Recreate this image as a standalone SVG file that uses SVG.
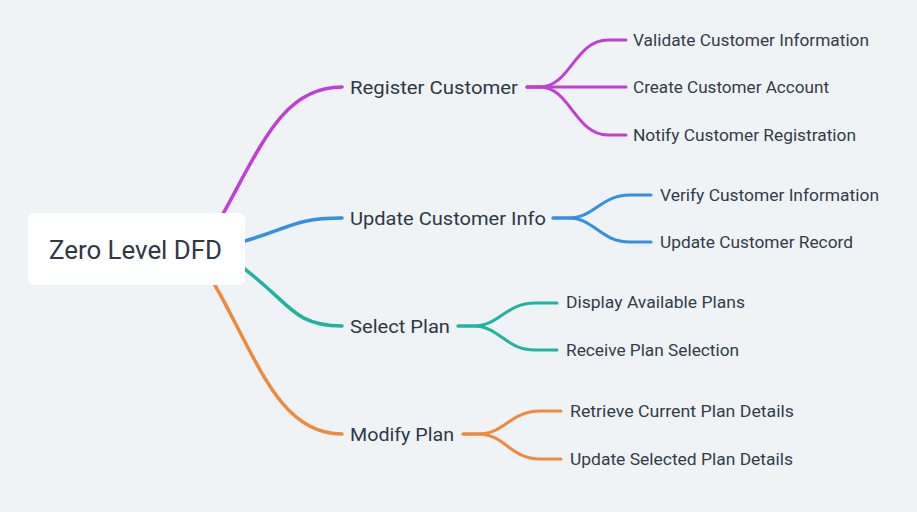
<svg xmlns="http://www.w3.org/2000/svg" width="917" height="512" viewBox="0 0 917 512">
<style>
.l1{font-family:Roboto,"Noto Sans",sans-serif;font-size:18px;fill:#2e3846}
.l2{font-family:Roboto,"Noto Sans",sans-serif;font-size:16px;fill:#333c49}
.root{font-family:Roboto,"Noto Sans",sans-serif;font-size:25px;fill:#2e3846}
.c{fill:none;stroke-linecap:round;stroke-width:3.5}
.cc{fill:none;stroke-linecap:round;stroke-width:3}
.m{stroke:#c23fd6}.b{stroke:#3390e2}.t{stroke:#22b3a0}.o{stroke:#ed8a3e}
</style>
<rect width="917" height="512" fill="#eff3f6"/>
<g id="connectors">
<path class="c m" d="M215 228 C260 150 280 87 342 87"/>
<path class="c b" d="M230 245 C290 230 290 218 342 218"/>
<path class="c t" d="M235 262 C290 300 290 326 342 326"/>
<path class="c o" d="M205 268 C255 350 275 434 342 434"/>
<path class="cc m" d="M527 87 L540 87 C570 87 575 40 608 40 L626 40"/>
<path class="cc m" d="M527 87 L626 87"/>
<path class="cc m" d="M527 87 L540 87 C570 87 575 135 608 135 L626 135"/>
<path class="cc b" d="M553 218 L568 218 C595 218 600 195 630 195 L651 195"/>
<path class="cc b" d="M553 218 L568 218 C595 218 600 242 630 242 L651 242"/>
<path class="cc t" d="M458 326 L473 326 C500 326 505 303 535 303 L557 303"/>
<path class="cc t" d="M458 326 L473 326 C500 326 505 350 535 350 L557 350"/>
<path class="cc o" d="M463 434 L478 434 C505 434 510 411 540 411 L561 411"/>
<path class="cc o" d="M463 434 L478 434 C505 434 510 459 540 459 L561 459"/>
</g>
<g id="root">
<rect x="28" y="213" width="217" height="72" rx="6" fill="#ffffff"/>
<text class="root" x="49" y="259" textLength="173" lengthAdjust="spacingAndGlyphs">Zero Level DFD</text>
</g>
<g id="register"><text class="l1" x="350" y="94" textLength="168" lengthAdjust="spacingAndGlyphs">Register Customer</text></g>
<g id="update"><text class="l1" x="350" y="225" textLength="196" lengthAdjust="spacingAndGlyphs">Update Customer Info</text></g>
<g id="select"><text class="l1" x="350" y="333" textLength="100" lengthAdjust="spacingAndGlyphs">Select Plan</text></g>
<g id="modify"><text class="l1" x="350" y="441" textLength="104" lengthAdjust="spacingAndGlyphs">Modify Plan</text></g>
<g id="validate"><text class="l2" x="633" y="46" textLength="236" lengthAdjust="spacingAndGlyphs">Validate Customer Information</text></g>
<g id="create"><text class="l2" x="633" y="93" textLength="196" lengthAdjust="spacingAndGlyphs">Create Customer Account</text></g>
<g id="notify"><text class="l2" x="633" y="141" textLength="223" lengthAdjust="spacingAndGlyphs">Notify Customer Registration</text></g>
<g id="verify"><text class="l2" x="660" y="201" textLength="219" lengthAdjust="spacingAndGlyphs">Verify Customer Information</text></g>
<g id="record"><text class="l2" x="660" y="248" textLength="193" lengthAdjust="spacingAndGlyphs">Update Customer Record</text></g>
<g id="display"><text class="l2" x="566" y="308" textLength="179" lengthAdjust="spacingAndGlyphs">Display Available Plans</text></g>
<g id="receive"><text class="l2" x="566" y="356" textLength="173" lengthAdjust="spacingAndGlyphs">Receive Plan Selection</text></g>
<g id="retrieve"><text class="l2" x="570" y="417" textLength="224" lengthAdjust="spacingAndGlyphs">Retrieve Current Plan Details</text></g>
<g id="updsel"><text class="l2" x="570" y="465" textLength="223" lengthAdjust="spacingAndGlyphs">Update Selected Plan Details</text></g>
</svg>
